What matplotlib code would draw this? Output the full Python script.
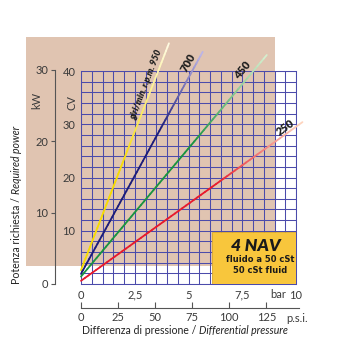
import numpy as np
import matplotlib
matplotlib.use("Agg")
import matplotlib.pyplot as plt
from matplotlib.patches import Rectangle
from matplotlib.collections import LineCollection
from matplotlib.colors import to_rgb
from matplotlib.ticker import MultipleLocator

plt.rcParams["font.family"] = ["Lato", "DejaVu Sans"]

# power curves of the 4 NAV pump at 50 cSt, one per speed
rpm = [950, 700, 450, 250]
bar_start = [0.0, 0.0, 0.0, 0.0]
cv_start = [2.6, 1.9, 1.4, 0.6]
bar_end = [4.09, 5.66, 8.64, 10.3]
cv_end = [45.2, 43.6, 43.0, 30.4]
line_colors = ["#f7dc00", "#1c1c7a", "#1a9440", "#e8192c"]
pale_colors = ["#fffce8", "#c4bcec", "#dcf2d4", "#ffdcc4"]
fade_from = [0.45, 0.65, 0.6, 0.6]

bar_ticks = [0, 2.5, 5, 7.5, 10]
bar_labels = ["0", "2,5", "5", "7,5", "10"]
cv_ticks = [10, 20, 30, 40]
kw_ticks = [0, 10, 20, 30]
psi_ticks = [0, 25, 50, 75, 100, 125]

txt = "#3a3a3a"
grid_c = "#4b4bab"
W = H = 340.0

fig = plt.figure(figsize=(3.4, 3.4), dpi=100)

# tan background panel
fig.add_artist(Rectangle((26 / W, 1 - 266 / H), (275 - 26) / W, (266 - 37) / H,
                         transform=fig.transFigure, facecolor="#e0c4b1",
                         edgecolor="none", zorder=-5))

ax = fig.add_axes([81 / W, 56 / H, 215 / W, 213 / H])
ax.set_facecolor("none")
ax.set_xlim(0, 10)
ax.set_ylim(0, 40)
ax.xaxis.set_minor_locator(MultipleLocator(0.5))
ax.yaxis.set_minor_locator(MultipleLocator(2))
ax.set_xticks(bar_ticks)
ax.set_xticklabels(bar_labels)
ax.set_yticks(cv_ticks)
ax.grid(which="both", color=grid_c, lw=0.75)
ax.tick_params(which="both", length=0, labelsize=8, labelcolor=txt, pad=4)
for s in ax.spines.values():
    s.set_color(grid_c)
    s.set_linewidth(0.75)
fig.text(278 / W, 1 - 295 / H, "bar", ha="center", va="center",
         fontsize=8, color=txt)

# curves, fading out toward their upper ends
for i in range(len(rpm)):
    t = np.linspace(0, 1, 60)
    xs = bar_start[i] + (bar_end[i] - bar_start[i]) * t
    ys = cv_start[i] + (cv_end[i] - cv_start[i]) * t
    pts = np.column_stack([xs, ys]).reshape(-1, 1, 2)
    segs = np.concatenate([pts[:-1], pts[1:]], axis=1)
    w = np.clip((t[:-1] - fade_from[i]) / (1 - fade_from[i]), 0, 1)
    c0, c1 = np.array(to_rgb(line_colors[i])), np.array(to_rgb(pale_colors[i]))
    cols = c0 * (1 - w[:, None]) + c1 * w[:, None]
    lc = LineCollection(segs, colors=cols, linewidths=1.3, zorder=3,
                        capstyle="round", clip_on=False)
    ax.add_collection(lc)

lab = dict(transform=fig.transFigure, ha="center", va="center",
           fontweight="heavy", color="#1e1e1e")
fig.text(146 / W, 1 - 85 / H, "giri/min. r.p.m. 950", rotation=69,
         fontsize=6.5, fontstyle="italic", **lab)
fig.text(188 / W, 1 - 63 / H, "700", rotation=61, fontsize=8, **lab)
fig.text(243 / W, 1 - 70 / H, "450", rotation=50, fontsize=8, **lab)
fig.text(285 / W, 1 - 127 / H, "250", rotation=36, fontsize=8, **lab)

# title box
ax.add_patch(Rectangle((6.09, 0), 3.91, 9.77, facecolor="#f8c63c",
                       edgecolor="#d9a82a", lw=0.6, zorder=4))
fig.text(255.5 / W, 1 - 246 / H, "4 NAV", ha="center", va="center",
         fontsize=12.5, fontweight="heavy", fontstyle="italic",
         color="#1a1a1a", zorder=5)
box = dict(ha="center", va="center", fontweight="bold", color="#1a1a1a",
           family="DejaVu Sans", zorder=5)
fig.text(260.5 / W, 1 - 259.5 / H, "fluido a 50 cSt", fontsize=6, **box)
fig.text(260 / W, 1 - 270.5 / H, "50 cSt fluid", fontsize=6, **box)

# kW scale on the left
axk = fig.add_axes([55 / W, 56 / H, 0.0001, 214 / H])
axk.set_ylim(0, 30)
axk.set_xticks([])
axk.set_yticks(kw_ticks)
axk.set_facecolor("none")
for k in ["top", "right", "bottom"]:
    axk.spines[k].set_visible(False)
axk.spines["left"].set_color("#555555")
axk.spines["left"].set_linewidth(0.8)
axk.tick_params(axis="y", length=3, width=0.8, color="#555555",
                labelsize=8, labelcolor=txt, pad=2)

fig.text(37 / W, 1 - 100 / H, "kW", rotation=90, ha="center", va="center",
         fontsize=8, color=txt)
fig.text(72 / W, 1 - 103 / H, "CV", rotation=90, ha="center", va="center",
         fontsize=8, color=txt)

# p.s.i. scale under the bar scale
psi_max = (299 - 81) / (215 / 145.04)
axp = fig.add_axes([81 / W, 32 / H, 218 / W, 0.0001])
axp.set_xlim(0, psi_max)
axp.set_yticks([])
axp.set_xticks(psi_ticks)
axp.set_facecolor("none")
for k in ["top", "right", "left"]:
    axp.spines[k].set_visible(False)
axp.spines["bottom"].set_color("#555555")
axp.spines["bottom"].set_linewidth(0.8)
axp.tick_params(axis="x", direction="in", length=4, width=0.8, color="#555555",
                labelsize=8, labelcolor=txt, pad=3)
fig.text(286 / W, 1 - 318 / H, "p.s.i.", ha="left", va="center",
         fontsize=8, color=txt)

# axis titles, the English part in italics
xl = fig.text(82 / W, 1 - 330 / H, "Differenza di pressione / ", ha="left",
              va="center", fontsize=7.6, color="#222222")
ax.annotate("Differential pressure", xy=(1, 0.5), xycoords=xl, ha="left",
            va="center", fontsize=7.6, fontstyle="italic", color="#222222",
            annotation_clip=False)

yl = fig.text(17 / W, 1 - 284 / H, "Potenza richiesta / ", rotation=90,
              ha="center", va="bottom", fontsize=7.6, color="#222222")
ax.annotate("Required power", xy=(0.5, 1), xycoords=yl, rotation=90,
            ha="center", va="bottom", fontsize=7.6, fontstyle="italic",
            color="#222222", annotation_clip=False)

fig.savefig("out.png", dpi=100)
